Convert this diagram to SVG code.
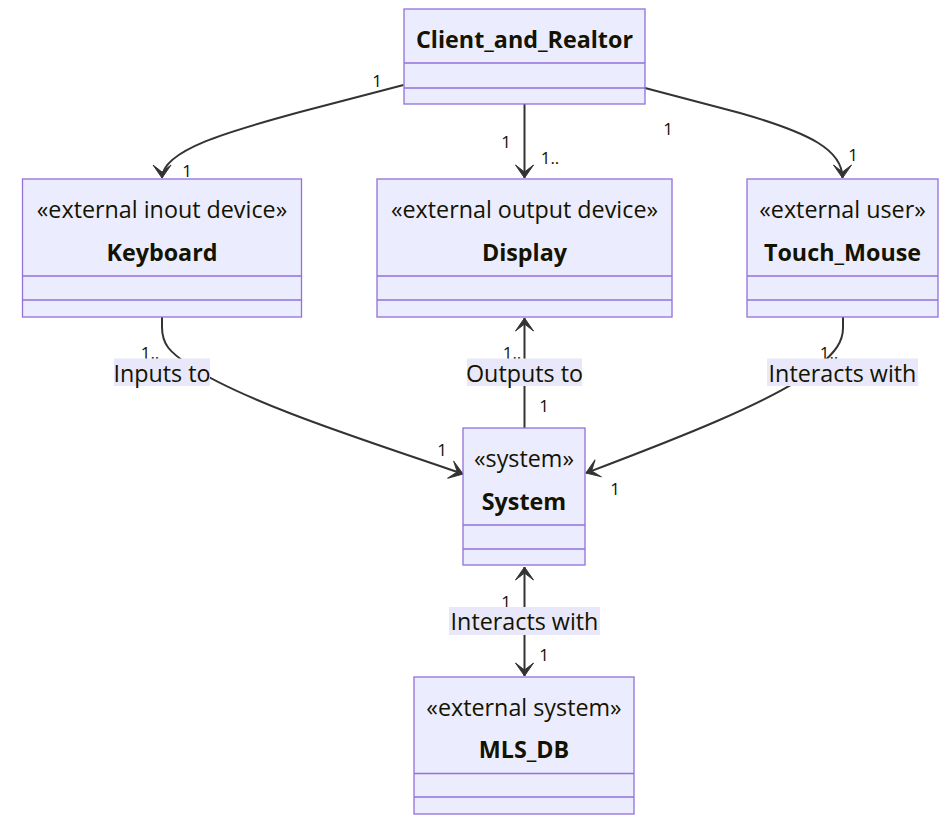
<svg xmlns="http://www.w3.org/2000/svg" width="952" height="827" viewBox="0 0 952 827">
<style>
.box{fill:#ECECFF;stroke:#9370DB;stroke-width:1.3}
.div{stroke:#9370DB;stroke-width:1.3}
.st{font-family:"Open Sans",sans-serif;font-size:23.3px;fill:#131300;text-anchor:middle}
.nm{font-family:"Open Sans",sans-serif;font-size:23.3px;font-weight:bold;fill:#131300;text-anchor:middle}
.edge{fill:none;stroke:#333333;stroke-width:2}
.card{font-family:"Open Sans",sans-serif;font-size:17px;fill:#131300;text-anchor:middle}
.lbg{fill:#E8E8FA}
.lbl{font-family:"Open Sans",sans-serif;font-size:23.3px;fill:#131300;text-anchor:middle}
</style>
<defs>
<marker id="arr" markerUnits="userSpaceOnUse" markerWidth="30" markerHeight="30" refX="0" refY="0" viewBox="-15 -15 30 30" orient="auto-start-reverse" overflow="visible">
<path d="M0,0 L-13,-9 L-6,0 L-13,9 Z" fill="#333333" stroke="#333333" stroke-width="1" stroke-linejoin="round"/>
</marker>
</defs>
<rect width="952" height="827" fill="#ffffff"/>
<g id="connectors">
<path class="edge" d="M403.5,85 L300,112 C230,131 162,150 162,178" marker-end="url(#arr)"/>
<path class="edge" d="M524.5,104 L524.5,178" marker-end="url(#arr)"/>
<path class="edge" d="M645,88 L740,113 C810,133 842.5,150 842.5,178" marker-end="url(#arr)"/>
<path class="edge" d="M162,317 L162,327 C162,345 170,352 190,366 C250,405 380,445 463,474" marker-end="url(#arr)"/>
<path class="edge" d="M524.5,428 L524.5,318" marker-end="url(#arr)"/>
<path class="edge" d="M843,317 L843,328 C843,342 835,352 820,365 C780,400 660,445 586,473" marker-end="url(#arr)"/>
<path class="edge" d="M524.5,567 L524.5,676" marker-start="url(#arr)" marker-end="url(#arr)"/>
<g id="cardinalities">
<text class="card" x="377" y="87">1</text>
<text class="card" x="187" y="177">1</text>
<text class="card" x="506" y="148">1</text>
<text class="card" x="550" y="164">1..</text>
<text class="card" x="668" y="135">1</text>
<text class="card" x="853" y="161">1</text>
<text class="card" x="150" y="359">1..</text>
<text class="card" x="442" y="456">1</text>
<text class="card" x="512" y="359">1..</text>
<text class="card" x="544" y="412">1</text>
<text class="card" x="829" y="359">1..</text>
<text class="card" x="615" y="495">1</text>
<text class="card" x="506" y="608">1</text>
<text class="card" x="544" y="661">1</text>
</g>
<g id="edge-labels">
<rect class="lbg" x="114" y="358.5" width="96" height="27.5"/>
<text class="lbl" x="162" y="381.5">Inputs to</text>
<rect class="lbg" x="467" y="358.5" width="115" height="27.5"/>
<text class="lbl" x="524.5" y="381.5">Outputs to</text>
<rect class="lbg" x="767" y="358.5" width="151" height="27.5"/>
<text class="lbl" x="842.5" y="381.5">Interacts with</text>
<rect class="lbg" x="449" y="607" width="151" height="28"/>
<text class="lbl" x="524.5" y="630">Interacts with</text>
</g>
</g>
<g id="Client_and_Realtor">
<rect class="box" x="404" y="9" width="241" height="95"/>
<line class="div" x1="404" y1="63" x2="645" y2="63"/>
<line class="div" x1="404" y1="88" x2="645" y2="88"/>
<text class="nm" x="524.5" y="48">Client_and_Realtor</text>
</g>
<g id="Keyboard">
<rect class="box" x="22.5" y="179" width="279" height="138"/>
<line class="div" x1="22.5" y1="276" x2="301.5" y2="276"/>
<line class="div" x1="22.5" y1="300" x2="301.5" y2="300"/>
<text class="st" x="162" y="218">«external inout device»</text>
<text class="nm" x="162" y="261">Keyboard</text>
</g>
<g id="Display">
<rect class="box" x="377" y="179" width="295" height="138"/>
<line class="div" x1="377" y1="276" x2="672" y2="276"/>
<line class="div" x1="377" y1="300" x2="672" y2="300"/>
<text class="st" x="524.5" y="218">«external output device»</text>
<text class="nm" x="524.5" y="261">Display</text>
</g>
<g id="Touch_Mouse">
<rect class="box" x="747" y="179" width="191" height="138"/>
<line class="div" x1="747" y1="276" x2="938" y2="276"/>
<line class="div" x1="747" y1="300" x2="938" y2="300"/>
<text class="st" x="842.5" y="218">«external user»</text>
<text class="nm" x="842.5" y="261">Touch_Mouse</text>
</g>
<g id="System">
<rect class="box" x="463" y="428" width="122" height="137"/>
<line class="div" x1="463" y1="525" x2="585" y2="525"/>
<line class="div" x1="463" y1="549" x2="585" y2="549"/>
<text class="st" x="524" y="467">«system»</text>
<text class="nm" x="524" y="510">System</text>
</g>
<g id="MLS_DB">
<rect class="box" x="414" y="677" width="220" height="137"/>
<line class="div" x1="414" y1="773.5" x2="634" y2="773.5"/>
<line class="div" x1="414" y1="797" x2="634" y2="797"/>
<text class="st" x="524" y="716">«external system»</text>
<text class="nm" x="524" y="758">MLS_DB</text>
</g>
</svg>
